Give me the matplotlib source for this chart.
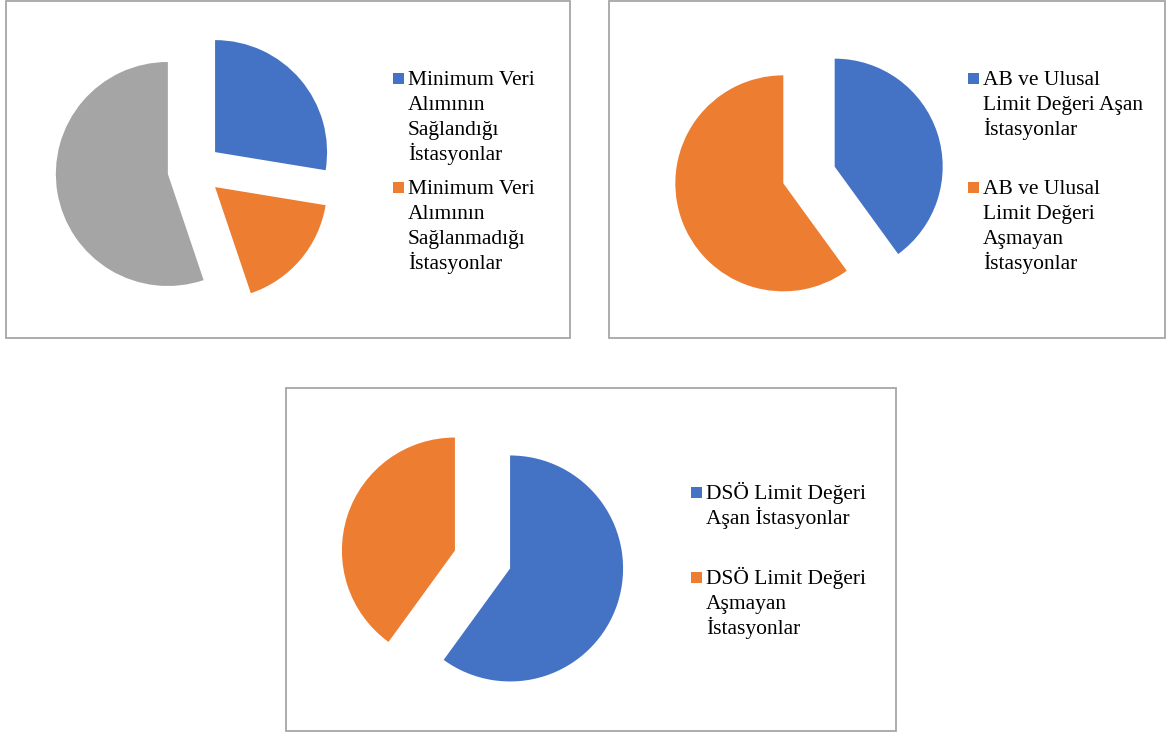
import matplotlib
matplotlib.use("Agg")
import matplotlib.pyplot as plt
from matplotlib.patches import Rectangle

# ---------------- data ----------------
pie1_labels = ["Minimum Veri\nAlımının\nSağlandığı\nİstasyonlar",
               "Minimum Veri\nAlımının\nSağlanmadığı\nİstasyonlar",
               ""]
pie1_values = [16, 10, 32]

pie2_labels = ["AB ve Ulusal\nLimit Değeri Aşan\nİstasyonlar",
               "AB ve Ulusal\nLimit Değeri\nAşmayan\nİstasyonlar"]
pie2_values = [40, 60]

pie3_labels = ["DSÖ Limit Değeri\nAşan İstasyonlar",
               "DSÖ Limit Değeri\nAşmayan\nİstasyonlar"]
pie3_values = [60, 40]

colors = ["#4472C4", "#ED7D31", "#A5A5A5"]

# ---------------- layout ----------------
W, H = 1166, 733
fig = plt.figure(figsize=(W / 100, H / 100), dpi=100)
ax = fig.add_axes([0, 0, 1, 1])
ax.set_axis_off()

FONT = "Liberation Serif"
FS = 15.5
LINE = 25.0

def Y(y):
    return H - y

def box(x0, y0, x1, y1):
    ax.add_patch(Rectangle((x0, Y(y1)), x1 - x0, y1 - y0, fill=False,
                           edgecolor="#A6A6A6", linewidth=1.3, zorder=1))

def legend(labels, mx, tx, baselines):
    for i, lab in enumerate(labels):
        if not lab:
            continue
        b = baselines[i]
        ax.add_patch(Rectangle((mx, Y(b - 1)), 11, 11, facecolor=colors[i],
                               edgecolor="none", zorder=3))
        for j, line in enumerate(lab.split("\n")):
            ax.text(tx, Y(b + j * LINE), line, fontsize=FS, family=FONT,
                    va="baseline", ha="left", color="#000000")

def pie(values, center, r, shift):
    # explode distance is in data units (= pixels here)
    ax.pie(values, colors=colors[:len(values)], startangle=90,
           counterclock=False, radius=r, center=(center[0], Y(center[1])),
           explode=[shift] * len(values),
           wedgeprops=dict(linewidth=0, edgecolor="none"))

# chart 1
box(5.5, 1, 569.5, 338)
pie(pie1_values, (194.5, 169.6), 112, 27)
legend(pie1_labels, 393, 408, [85, 194])

# chart 2
box(609, 1, 1165, 338)
pie(pie2_values, (809, 175), 108, 27)
legend(pie2_labels, 968, 983, [85, 194])

# chart 3
box(286, 388, 896, 731)
pie(pie3_values, (482.5, 559.5), 113, 29)
legend(pie3_labels, 691, 706, [499, 584])

ax.set_xlim(0, W)
ax.set_ylim(0, H)
ax.set_aspect("auto")
ax.set_position([0, 0, 1, 1])

fig.savefig("out.png", dpi=100, facecolor="white")
